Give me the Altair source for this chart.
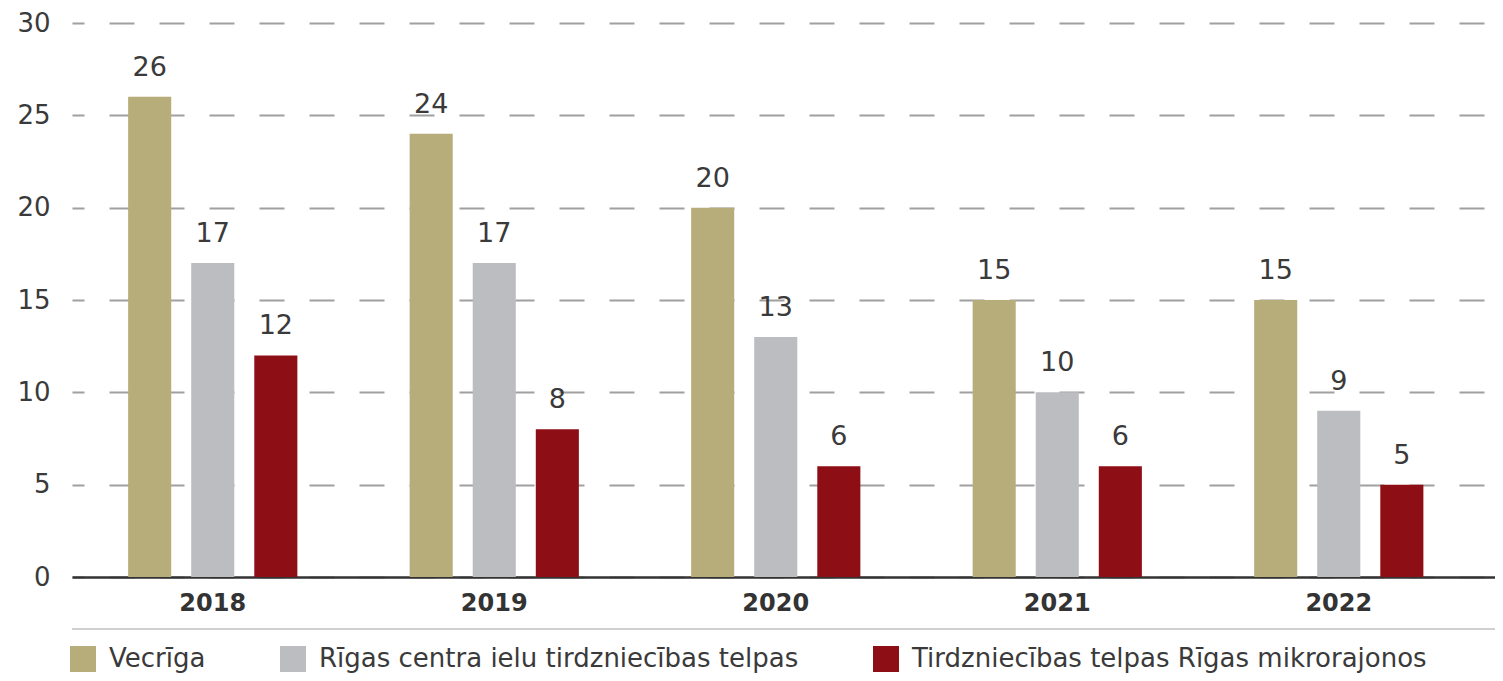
import altair as alt
import pandas as pd

years = ["2018", "2019", "2020", "2021", "2022"]
series = ["Vecrīga", "Rīgas centra ielu tirdzniecības telpas", "Tirdzniecības telpas Rīgas mikrorajonos"]
vecriga = [26, 24, 20, 15, 15]
centrs = [17, 17, 13, 10, 9]
mikro = [12, 8, 6, 6, 5]
colors = ["#b7ad7a", "#bcbdc0", "#8e0e16"]

rows = []
for i, y in enumerate(years):
    for s, vals in zip(series, [vecriga, centrs, mikro]):
        rows.append({"year": y, "series": s, "value": vals[i]})
df = pd.DataFrame(rows)

W = 1423
H = 554
FONT = "DejaVu Sans"
TXT = "#3a3a3a"

x = alt.X("year:N", sort=years,
          scale=alt.Scale(paddingInner=0, paddingOuter=0.0275, align=0),
          axis=alt.Axis(title=None, labelAngle=0, labelFont=FONT, labelFontSize=24,
                        labelFontWeight="bold", labelColor="#333333", labelPadding=14,
                        ticks=False, domainColor="#333333", domainWidth=2.5, grid=False))
xoff = alt.XOffset("series:N", sort=series,
                   scale=alt.Scale(paddingInner=0.317, paddingOuter=0.89))
y = alt.Y("value:Q", scale=alt.Scale(domain=[0, 30], nice=False),
          axis=alt.Axis(title=None, values=[0, 5, 10, 15, 20, 25, 30], labelFont=FONT,
                        labelFontSize=26, labelColor=TXT,
                        labelPadding=22, ticks=False, domain=False, gridDash=[25, 25],
                        gridColor="#a0a0a0", gridWidth=2, gridDashOffset=13))

bars = alt.Chart(df).mark_bar().encode(
    x=x, xOffset=xoff, y=y,
    color=alt.Color("series:N", sort=series,
                    scale=alt.Scale(domain=series, range=colors),
                    legend=alt.Legend(title=None, orient="none", legendX=-2, legendY=623,
                                      direction="horizontal", columns=3, columnPadding=74,
                                      symbolType="square", symbolSize=676, symbolStrokeWidth=0,
                                      symbolOpacity=1, labelFont=FONT, labelFontSize=26,
                                      labelColor=TXT, labelOffset=13, labelLimit=0))
)

labels = alt.Chart(df).mark_text(font=FONT, fontSize=27, color=TXT,
                                 baseline="alphabetic", dy=-21).encode(
    x=x, xOffset=xoff, y=y, text="value:Q"
)

sep = alt.Chart(pd.DataFrame({"a": [0]})).mark_rule(color="#d0d0d0", strokeWidth=2).encode(
    x=alt.value(0), x2=alt.value(W), y=alt.value(606)
)

chart = alt.layer(bars, labels, sep).properties(
    width=W, height=H,
    background="white",
    autosize=alt.AutoSizeParams(type="none"),
    padding={"left": 64, "top": 15, "right": 0, "bottom": 96},
).configure_view(strokeWidth=0, stroke="transparent")

chart.save("out.html", embed_options={"renderer": "svg", "actions": False})
